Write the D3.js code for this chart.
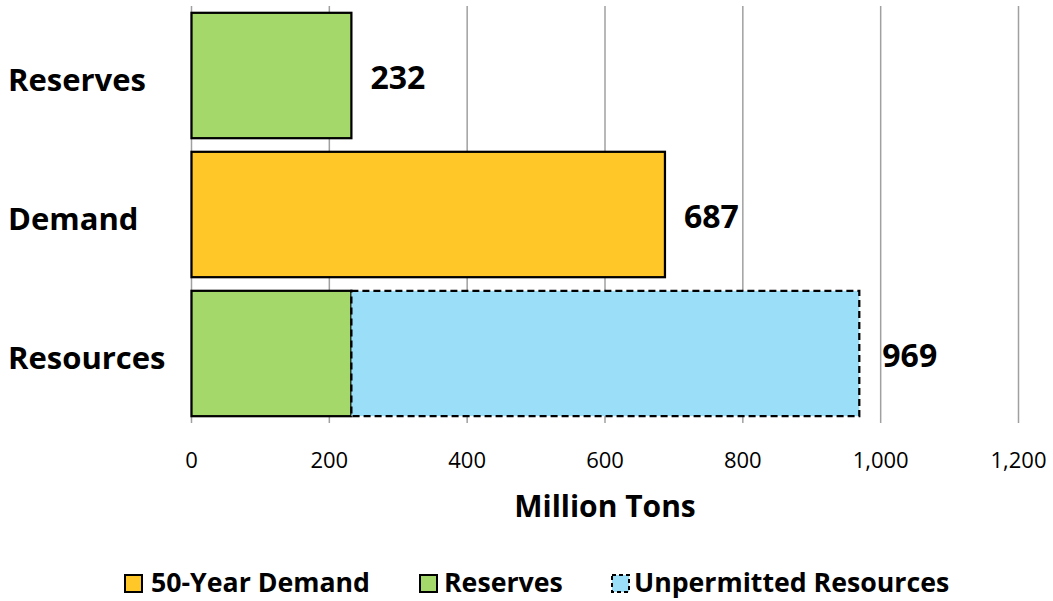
<!DOCTYPE html>
<html><head><meta charset="utf-8">
<script src="https://cdn.jsdelivr.net/npm/d3@7"></script>
<style>body{margin:0;background:#fff}svg{display:block}text{font-family:"Open Sans",Lato,sans-serif}</style>
</head><body><svg id="c" width="1053" height="601"></svg>
<script>
const categories = ["Reserves", "Demand", "Resources"];
const seriesKeys = ["reserves", "demand", "unpermitted"];
const reservesVals = [232, 0, 232];
const demandVals = [0, 687, 0];
const unpermittedVals = [0, 0, 737];
const totalLabels = [232, 687, 969];
const xTicks = [0, 200, 400, 600, 800, 1000, 1200];
const legendLabels = ["50-Year Demand", "Reserves", "Unpermitted Resources"];
const colors = {demand: "#FFC828", reserves: "#A5D86B", unpermitted: "#9BDEF8"};

const rows = categories.map((c, i) => ({cat: c, reserves: reservesVals[i], demand: demandVals[i], unpermitted: unpermittedVals[i]}));
const stacked = d3.stack().keys(seriesKeys)(rows);

const svg = d3.select("#c");
const x = d3.scaleLinear().domain([0, 1200]).range([191.5, 1018.5]);
const y = d3.scaleBand().domain(categories).range([6, 423]).paddingInner(0.098).paddingOuter(0.049);

// gridlines
svg.append("g").selectAll("line").data(xTicks).join("line")
  .attr("x1", d => x(d)).attr("x2", d => x(d)).attr("y1", 6).attr("y2", 423)
  .attr("stroke", "#a0a0a0").attr("stroke-width", 1.5);

// tick labels
svg.append("g").selectAll("text").data(xTicks).join("text")
  .attr("x", d => x(d)).attr("y", 468).attr("text-anchor", "middle")
  .attr("font-size", 22).attr("fill", "#000").text(d => d3.format(",")(d));

// bars
stacked.forEach(s => {
  svg.append("g").selectAll("rect").data(s.filter(d => d[1] - d[0] > 0)).join("rect")
    .attr("x", d => x(d[0])).attr("width", d => x(d[1]) - x(d[0]))
    .attr("y", d => y(d.data.cat)).attr("height", y.bandwidth())
    .attr("fill", colors[s.key]).attr("stroke", "#000").attr("stroke-width", 2.25)
    .attr("stroke-dasharray", s.key === "unpermitted" ? "7,4" : null);
});

// value labels
svg.append("g").selectAll("text").data(categories).join("text")
  .attr("x", (c, i) => x(totalLabels[i]) + (i === 2 ? 23 : 19))
  .attr("y", (c, i) => y(c) + y.bandwidth() / 2 + 13)
  .attr("font-size", 32).attr("font-weight", "bold").attr("fill", "#000")
  .text((c, i) => totalLabels[i]);

// category labels
svg.append("g").selectAll("text").data(categories).join("text")
  .attr("x", 8).attr("y", (c, i) => y(c) + y.bandwidth() / 2 + 15)
  .attr("font-size", 31).attr("font-weight", "bold").attr("fill", "#000").text(c => c);

// axis title
svg.append("text").attr("x", 605).attr("y", 517).attr("text-anchor", "middle")
  .attr("font-size", 30).attr("font-weight", "bold").text("Million Tons");

// legend
const legKeys = ["demand", "reserves", "unpermitted"];
const legX = [125, 420, 612];
const legTX = [151, 444, 634];
const lg = svg.append("g");
legKeys.forEach((k, i) => {
  lg.append("rect").attr("x", legX[i]).attr("y", 575).attr("width", 17).attr("height", 17)
    .attr("fill", colors[k]).attr("stroke", "#000").attr("stroke-width", 2)
    .attr("stroke-dasharray", k === "unpermitted" ? "4,3" : null);
  lg.append("text").attr("x", legTX[i]).attr("y", 592).attr("font-size", 26.7)
    .attr("font-weight", "bold").text(legendLabels[i]);
});
</script></body></html>
